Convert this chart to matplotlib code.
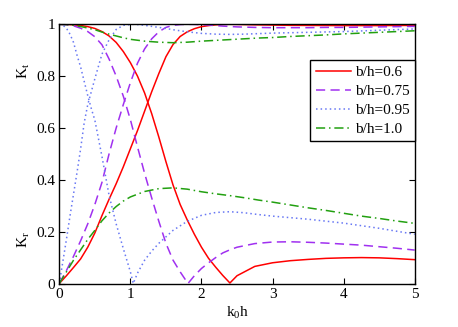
import matplotlib
matplotlib.use("Agg")
import matplotlib.pyplot as plt

plt.rcParams['font.family'] = ['Liberation Serif', 'DejaVu Serif']
plt.rcParams['mathtext.fontset'] = 'custom'
plt.rcParams['mathtext.rm'] = 'Liberation Serif'
plt.rcParams['mathtext.it'] = 'Liberation Serif'

# b/h = 0.6
x06 = [0, .1, .2, .3, .4, .5, .6, .7, .8, .9, 1.0, 1.1, 1.2, 1.3, 1.4, 1.5, 1.6, 1.7, 1.8,
       1.9, 2.0, 2.1, 2.2, 2.3, 2.4, 2.5, 2.75, 3.0, 3.25, 3.5, 3.75, 4.0, 4.25, 4.5, 4.75, 5.0]
kt06 = [1, .9995, .998, .9955, .991, .984, .972, .955, .93, .895, .852, .80, .735, .655, .565,
        .47, .38, .305, .245, .19, .14, .097, .063, .031, .002,
        .03, .066, .08, .088, .093, .097, .099, .1, .099, .096, .092]
kr06 = [0, .03, .062, .095, .14, .195, .262, .325, .385, .45, .52, .59, .665, .74, .81,
        .875, .922, .953, .971, .983, .991, .995, .998, .9995, 1.0,
        .9995, .998, .997, .996, .9957, .9953, .995, .995, .995, .9954, .9958]

# b/h = 0.75
x075 = [0, .1, .2, .3, .4, .5, .6, .7, .8, .9, 1.0, 1.1, 1.2, 1.3, 1.4, 1.5, 1.6, 1.7,
        1.81, 1.9, 2.0, 2.1, 2.2, 2.3, 2.4, 2.5,
        2.75, 3.0, 3.25, 3.5, 3.75, 4.0, 4.25, 4.5, 4.75, 5.0]
kt075 = [1, .9985, .994, .985, .972, .952, .921, .866, .80, .723, .632, .527, .425, .33, .24,
         .155, .09, .045, 0, .03, .058, .08, .10, .118, .13, .14,
         .154, .16, .161, .159, .156, .152, .148, .142, .136, .129]
kr075 = [0, .05, .105, .165, .23, .305, .39, .50, .60, .69, .775, .85, .905, .944, .971,
         .988, .996, .999, 1.0, .9995, .998, .997, .995, .993, .9915, .990,
         .988, .987, .987, .987, .988, .988, .989, .990, .991, .992]

# b/h = 0.95
x095 = [0, .05, .1, .15, .2, .25, .3, .35, .4, .45, .5, .6, .7, .8, .9, 1.0, 1.04,
        1.1, 1.2, 1.3, 1.4, 1.5, 1.6, 1.8, 2.0, 2.2, 2.4, 2.6, 2.8, 3.0, 3.5, 4.0, 4.5, 5.0]
kt095 = [1, .997, .985, .962, .93, .88, .835, .78, .725, .675, .63, .49, .34, .23, .135, .045, 0,
         .04, .09, .125, .155, .18, .205, .24, .263, .274, .277, .273, .266, .26, .248, .233, .213, .19]
kr095 = [0, .085, .17, .26, .345, .43, .52, .62, .69, .74, .79, .885, .94, .98, .996, .999, 1.0,
         .999, .996, .992, .988, .984, .979, .971, .965, .962, .961, .962, .964, .966, .969, .972, .977, .982]

# b/h = 1.0
x10 = [0, .1, .2, .3, .4, .5, .6, .7, .8, .9, 1.0, 1.2, 1.4, 1.6, 1.8, 2.0, 2.2, 2.4, 2.6,
       2.8, 3.0, 3.25, 3.5, 3.75, 4.0, 4.25, 4.5, 4.75, 5.0]
kt10 = [1, .999, .996, .9915, .9855, .979, .97, .962, .955, .948, .942, .935, .931, .929, .931,
        .935, .938, .941, .944, .947, .949, .953, .956, .959, .963, .966, .969, .972, .975]
kr10 = [0, .045, .09, .13, .17, .205, .242, .272, .297, .318, .334, .355, .366, .369, .364,
        .354, .346, .339, .331, .322, .314, .303, .292, .282, .271, .26, .251, .241, .232]

fig = plt.figure(figsize=(4.58, 3.27), dpi=100)
ax = fig.add_axes([0.1295, 0.133, 0.776, 0.7927])

lw = 1.1
ax.plot(x06, kt06, color='#ff0000', lw=lw, label='b/h=0.6')
ax.plot(x06, kr06, color='#ff0000', lw=lw)
ax.plot(x075, kt075, color='#a030f0', lw=lw, ls=(0, (6, 3.5)), label='b/h=0.75')
ax.plot(x075, kr075, color='#a030f0', lw=lw, ls=(0, (6, 3.5)))
ax.plot(x095, kt095, color='#6878f4', lw=lw, ls=(0, (1, 2)), label='b/h=0.95')
ax.plot(x095, kr095, color='#6878f4', lw=lw, ls=(0, (1, 2)))
ax.plot(x10, kt10, color='#22a010', lw=lw, ls=(0, (6, 2.5, 1, 2.5)), label='b/h=1.0')
ax.plot(x10, kr10, color='#22a010', lw=lw, ls=(0, (6, 2.5, 1, 2.5)))

ax.set_xlim(0, 5)
ax.set_ylim(0, 1)
ax.set_xticks([0, 1, 2, 3, 4, 5])
ax.set_yticks([0, 0.2, 0.4, 0.6, 0.8, 1])
ax.set_yticklabels(['0', '0.2', '0.4', '0.6', '0.8', '1'])
ax.tick_params(direction='in', top=True, right=True, length=4, width=0.8,
               labelsize=11, pad=3)
for s in ax.spines.values():
    s.set_linewidth(1.0)

ax.set_xlabel(r'k$_0$h', fontsize=11, labelpad=3)
ax.text(-0.10, 0.82, r'K$_t$', transform=ax.transAxes, rotation=90,
        fontsize=11, ha='center', va='center')
ax.text(-0.10, 0.17, r'K$_r$', transform=ax.transAxes, rotation=90,
        fontsize=11, ha='center', va='center')

leg = ax.legend(loc='upper right', bbox_to_anchor=(1.0, 0.863), fontsize=11,
                handlelength=2.3, handletextpad=0.25, labelspacing=0.35,
                borderaxespad=0, borderpad=0.35, fancybox=False, framealpha=1)
leg.get_frame().set_edgecolor('black')
leg.get_frame().set_linewidth(1.0)

fig.savefig('out.png', dpi=100)
